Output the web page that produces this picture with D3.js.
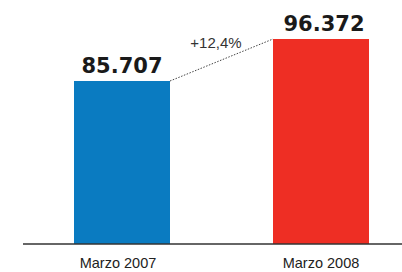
<!DOCTYPE html>
<html><head><meta charset="utf-8">
<script src="https://cdn.jsdelivr.net/npm/d3@7"></script>
<style>body{margin:0;background:#fff}svg{display:block}</style>
</head><body>
<svg id="c" width="402" height="272"></svg>
<script>
const categories = ["Marzo 2007", "Marzo 2008"];
const values = [85707, 96372];
const valueLabels = ["85.707", "96.372"];
const changeLabel = "+12,4%";
const colors = ["#0a7bc1", "#ee2e24"];

const svg = d3.select("#c");
const baseY = 244;
const x = d3.scaleBand().domain(categories).range([74, 369]).paddingInner(0.5176).paddingOuter(0);
const y = d3.scaleLinear().domain([44300, 96372]).range([baseY, 39]);

svg.selectAll("rect.bar").data(values).enter().append("rect")
  .attr("x", (d, i) => x(categories[i]))
  .attr("y", d => y(d))
  .attr("width", x.bandwidth())
  .attr("height", d => baseY - y(d))
  .attr("fill", (d, i) => colors[i]);

// baseline
svg.append("line").attr("x1", 23).attr("x2", 402).attr("y1", baseY).attr("y2", baseY)
  .attr("stroke", "#333").attr("stroke-width", 1.5);

// axis labels
const ax = svg.append("g").attr("transform", `translate(0,${baseY})`)
  .call(d3.axisBottom(x).tickSize(0).tickPadding(14));
ax.select(".domain").remove();
ax.selectAll("text").attr("font-family", "Liberation Sans, Arial, sans-serif")
  .attr("font-size", 14.5).attr("fill", "#222")
  .attr("dx", (d, i) => i ? 0 : -4);

// value labels
svg.selectAll("text.val").data(values).enter().append("text")
  .attr("x", (d, i) => x(categories[i]) + x.bandwidth() / 2 + (i ? 3 : 0))
  .attr("y", d => y(d) - 8)
  .attr("text-anchor", "middle")
  .attr("font-family", "DejaVu Sans, sans-serif")
  .attr("font-weight", "bold")
  .attr("font-size", 21)
  .attr("fill", "#1a1a1a")
  .text((d, i) => valueLabels[i]);

// dotted connector
svg.append("line")
  .attr("x1", x(categories[0]) + x.bandwidth()).attr("y1", y(values[0]))
  .attr("x2", x(categories[1])).attr("y2", y(values[1]))
  .attr("stroke", "#444").attr("stroke-width", 1).attr("stroke-dasharray", "1.5,1.5");

svg.append("text")
  .attr("x", 216).attr("y", 48)
  .attr("text-anchor", "middle")
  .attr("font-family", "Liberation Sans, Arial, sans-serif")
  .attr("font-size", 15).attr("fill", "#333")
  .text(changeLabel);
</script>
</body></html>
